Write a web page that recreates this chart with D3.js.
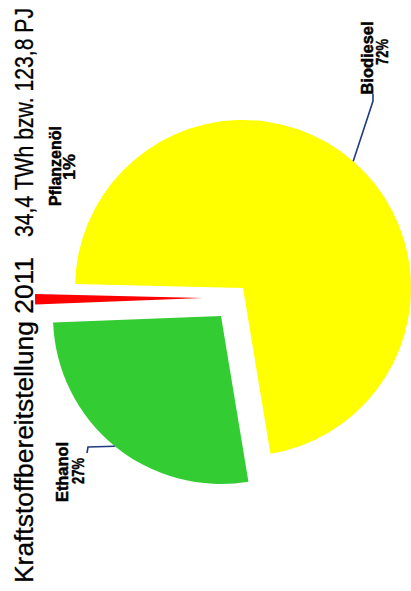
<!DOCTYPE html>
<html>
<head>
<meta charset="utf-8">
<script src="https://cdn.jsdelivr.net/npm/d3@7"></script>
<style>
  html, body { margin: 0; padding: 0; background: #ffffff; overflow: hidden; }
  svg { display: block; }
</style>
</head>
<body>
<svg id="chart" width="411" height="591"></svg>
<script>
// ---- data ----
const categories = ["Biodiesel", "Ethanol", "Pflanzenöl"];
const shares = [72, 27, 1];
const percentLabels = ["72%", "27%", "1%"];
const titleMain = "Kraftstoffbereitstellung 2011";
const titleSub = "34,4 TWh bzw. 123,8 PJ";
const sliceColors = ["#ffff00", "#33cc33", "#ff0000"];

// ---- layout ----
const W = 411, H = 591;
const cx = 243, cy = 288, R = 168;
const deg = Math.PI / 180;
const startA = -88.6 * deg;
// explode offsets per slice (screen px)
const explode = [[0, 0], [-22, 28], [-40, 10]];
// label anchor positions (baseline x, centre y) for two lines, name lengths
const labelPos = [
  { name: [373, 58], nameLen: 73, pct: [388, 52], elbow: [[373, 94], [373, 101]] },
  { name: [68, 472], nameLen: 60, pct: [84, 471], elbow: [[87, 453], [88, 447]] },
  { name: [61, 166], nameLen: 80, pct: [75, 167], elbow: null }
];

const svg = d3.select("#chart");
svg.append("rect").attr("width", W).attr("height", H).attr("fill", "#ffffff");

const pie = d3.pie().sort(null).value(d => d)
  .startAngle(startA).endAngle(startA + 2 * Math.PI);
const arcs = pie(shares);
const arc = d3.arc().innerRadius(0).outerRadius(R);

const g = svg.append("g").attr("transform", `translate(${cx},${cy})`);

g.selectAll("path.slice")
  .data(arcs)
  .join("path")
  .attr("class", "slice")
  .attr("transform", (d, i) => `translate(${explode[i][0]},${explode[i][1]})`)
  .attr("d", arc)
  .attr("fill", (d, i) => sliceColors[i]);

// leader lines
arcs.forEach((d, i) => {
  const lp = labelPos[i];
  if (!lp.elbow) return;
  const mid = (d.startAngle + d.endAngle) / 2;
  const ex = cx + explode[i][0] + R * Math.sin(mid);
  const ey = cy + explode[i][1] - R * Math.cos(mid);
  const pts = [[ex, ey], lp.elbow[1], lp.elbow[0]];
  svg.append("path")
    .attr("d", d3.line()(pts))
    .attr("fill", "none")
    .attr("stroke", "#1f3c80")
    .attr("stroke-width", 1.6);
});

// labels (rotated -90deg)
const labelFont = "'Liberation Sans Narrow', 'Arial Narrow', 'Liberation Sans', Arial, sans-serif";
categories.forEach((c, i) => {
  const lp = labelPos[i];
  svg.append("text")
    .attr("transform", `translate(${lp.name[0]},${lp.name[1]}) rotate(-90)`)
    .attr("text-anchor", "middle")
    .attr("font-family", labelFont)
    .attr("font-weight", "bold")
    .attr("font-size", 17)
    .attr("textLength", lp.nameLen)
    .attr("lengthAdjust", "spacingAndGlyphs")
    .attr("fill", "#000")
    .attr("stroke", "#000")
    .attr("stroke-width", 0.5)
    .text(c);
  svg.append("text")
    .attr("transform", `translate(${lp.pct[0]},${lp.pct[1]}) rotate(-90)`)
    .attr("text-anchor", "middle")
    .attr("font-family", labelFont)
    .attr("font-weight", "bold")
    .attr("font-size", 16)
    .attr("textLength", 26)
    .attr("lengthAdjust", "spacingAndGlyphs")
    .attr("fill", "#000")
    .attr("stroke", "#000")
    .attr("stroke-width", 0.4)
    .text(percentLabels[i]);
});

// title (rotated)
const titleFont = "'Liberation Sans', Arial, Helvetica, sans-serif";
svg.append("text")
  .attr("transform", `translate(33,583) rotate(-90)`)
  .attr("text-anchor", "start")
  .attr("font-family", titleFont)
  .attr("font-size", 26)
  .attr("textLength", 326)
  .attr("lengthAdjust", "spacingAndGlyphs")
  .attr("fill", "#000")
  .attr("stroke", "#000")
  .attr("stroke-width", 0.3)
  .text(titleMain);
svg.append("text")
  .attr("transform", `translate(33,8) rotate(-90)`)
  .attr("text-anchor", "end")
  .attr("font-family", titleFont)
  .attr("font-size", 26)
  .attr("textLength", 229)
  .attr("lengthAdjust", "spacingAndGlyphs")
  .attr("fill", "#000")
  .attr("stroke", "#000")
  .attr("stroke-width", 0.3)
  .text(titleSub);
</script>
</body>
</html>
